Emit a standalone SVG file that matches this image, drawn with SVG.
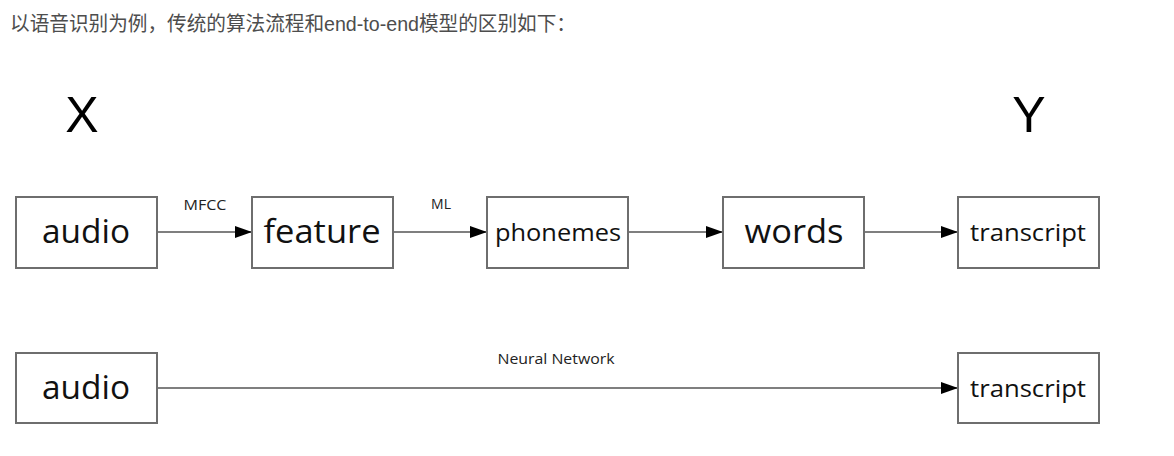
<svg xmlns="http://www.w3.org/2000/svg" width="1174" height="456" viewBox="0 0 1174 456">
<style>
.box{fill:#fff;stroke:#6e6e6e;stroke-width:2}
.big{font-family:"Open Sans","Noto Sans",sans-serif;font-size:33px;fill:#111;text-anchor:middle}
.mid{font-family:"Open Sans","Noto Sans",sans-serif;font-size:24px;fill:#111;text-anchor:middle;font-weight:500}
.lbl{font-family:"Open Sans","Noto Sans",sans-serif;font-size:14px;fill:#222;text-anchor:middle}
.xy{font-family:"Liberation Sans",Arial,sans-serif;font-size:50px;fill:#000;text-anchor:middle}
.edge{stroke:#555;stroke-width:1.5;fill:none;marker-end:url(#ah)}
</style>
<defs>
<marker id="ah" markerWidth="18" markerHeight="12" refX="17" refY="6" orient="auto" markerUnits="userSpaceOnUse">
<path d="M0,0 L17,6 L0,12 Z" fill="#000"/>
</marker>
</defs>
<rect width="1174" height="456" fill="#fff"/>
<text x="10" y="31" font-family="'Liberation Sans','Noto Sans CJK SC',sans-serif" font-size="20" fill="#4d4d4d" textLength="566" lengthAdjust="spacingAndGlyphs">以语音识别为例，传统的算法流程和end-to-end模型的区别如下：</text>
<text class="xy" x="82" y="132">X</text>
<text class="xy" x="1029" y="132">Y</text>
<g id="connectors">
<line class="edge" x1="157" y1="232" x2="252" y2="232"/>
<line class="edge" x1="393" y1="232" x2="487" y2="232"/>
<line class="edge" x1="628" y1="232" x2="723" y2="232"/>
<line class="edge" x1="864" y1="232" x2="958" y2="232"/>
<line class="edge" x1="157" y1="388" x2="958" y2="388"/>
<text class="lbl" x="205" y="210" textLength="43" lengthAdjust="spacingAndGlyphs">MFCC</text>
<text class="lbl" x="441" y="209">ML</text>
<text class="lbl" x="556" y="364" textLength="117" lengthAdjust="spacingAndGlyphs">Neural Network</text>
</g>
<g id="audio1"><rect class="box" x="16" y="197" width="141" height="71"/><text class="big" x="86" y="243" textLength="88" lengthAdjust="spacingAndGlyphs">audio</text></g>
<g id="feature"><rect class="box" x="252" y="197" width="141" height="71"/><text class="big" x="322" y="243" textLength="117" lengthAdjust="spacingAndGlyphs">feature</text></g>
<g id="phonemes"><rect class="box" x="487" y="197" width="141" height="71"/><text class="mid" x="558" y="241" textLength="126" lengthAdjust="spacingAndGlyphs">phonemes</text></g>
<g id="words"><rect class="box" x="723" y="197" width="141" height="71"/><text class="big" x="794" y="243" textLength="99" lengthAdjust="spacingAndGlyphs">words</text></g>
<g id="transcript1"><rect class="box" x="958" y="197" width="141" height="71"/><text class="mid" x="1028" y="241" textLength="116" lengthAdjust="spacingAndGlyphs">transcript</text></g>
<g id="audio2"><rect class="box" x="16" y="353" width="141" height="70"/><text class="big" x="86" y="399" textLength="88" lengthAdjust="spacingAndGlyphs">audio</text></g>
<g id="transcript2"><rect class="box" x="958" y="353" width="141" height="70"/><text class="mid" x="1028" y="397" textLength="116" lengthAdjust="spacingAndGlyphs">transcript</text></g>
</svg>
